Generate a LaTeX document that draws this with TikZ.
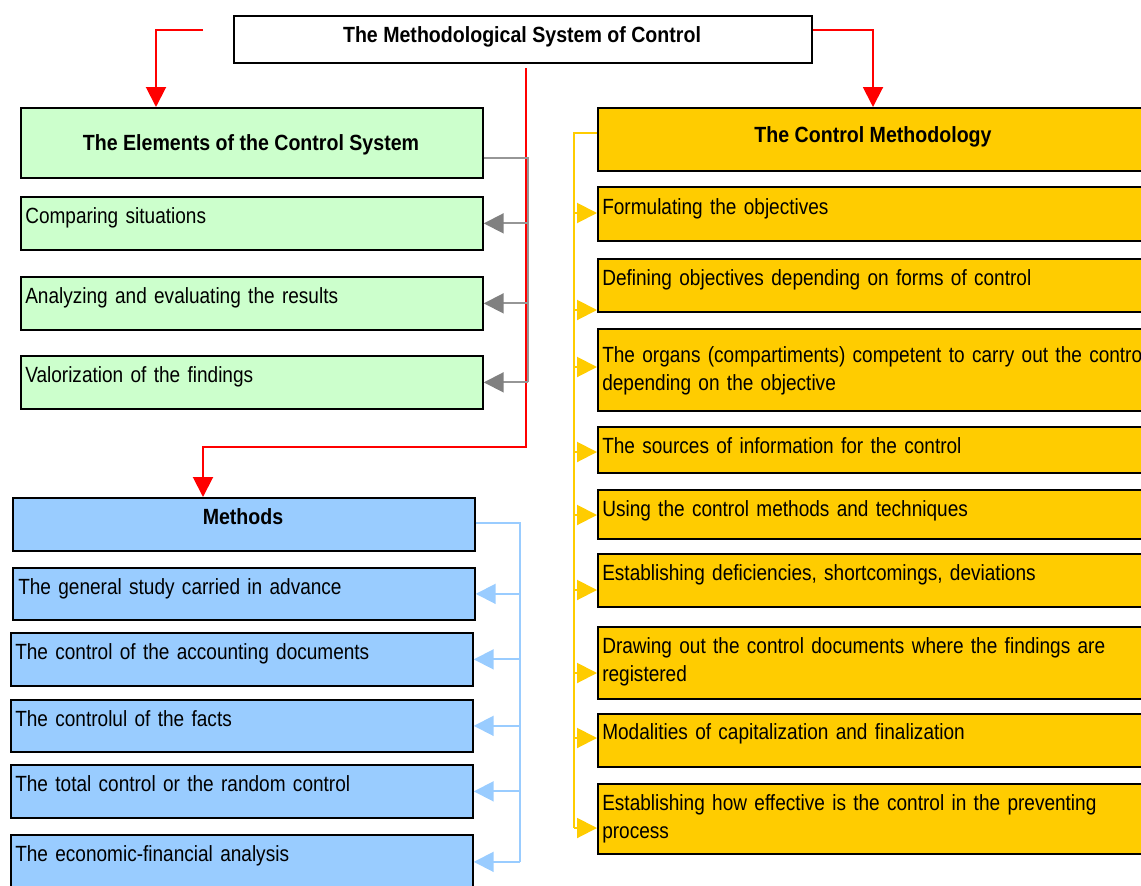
\documentclass[tikz,border=0pt]{standalone}
\usepackage{fontspec}
\setmainfont{Liberation Sans}[FakeStretch=0.865,WordSpace=0.8,BoldFeatures={FakeStretch=0.89,WordSpace=1}]
\usepackage{tikz}
\usetikzlibrary{arrows.meta,calc}

\definecolor{boxgreen}{RGB}{204,255,204}
\definecolor{boxblue}{RGB}{153,204,255}
\definecolor{boxorange}{RGB}{255,204,0}
\definecolor{linkgrey}{RGB}{128,128,128}
\definecolor{trunkgrey}{RGB}{150,150,150}

\newcommand{\figfont}{\fontsize{16.5pt}{21pt}\selectfont}

\tikzset{
	box/.style={draw=black, line width=1.3pt, anchor=north west, inner sep=0pt, minimum width=346.5pt},
	txt/.style={anchor=base west, inner sep=0pt, text width=460pt, align=left, font=\figfont},
	hdr/.style={anchor=base, inner sep=0pt, font=\figfont\bfseries},
	tip/.style={-{Triangle[length=15pt,width=15pt]}},
	redlink/.style={tip, color=red, line width=1.5pt},
	greyline/.style={color=trunkgrey, line width=1.5pt},
	greylink/.style={greyline, -{Triangle[length=15pt,width=15pt,color=linkgrey]}},
	blueline/.style={color=boxblue, line width=1.5pt},
	bluelink/.style={blueline, tip},
	orangeline/.style={color=boxorange, line width=1.5pt},
	orangelink/.style={orangeline, tip}
}

\begin{document}
\begin{tikzpicture}[x=0.75pt,y=0.75pt,yscale=-1,xscale=1]
	\useasboundingbox (0,0) rectangle (1141,885);
	\clip (0,0) rectangle (1141,885);
	
	%Title box
	\node[box, fill=white, minimum width=433.5pt, minimum height=35.25pt] (title) at (233,15) {};
	
	%Elements of the control system
	\node[box, fill=boxgreen, minimum height=52.5pt] (eh) at (20,107) {};
	\node[box, fill=boxgreen, minimum height=39.75pt] (e1) at (20,196) {};
	\node[box, fill=boxgreen, minimum height=39.75pt] (e2) at (20,276) {};
	\node[box, fill=boxgreen, minimum height=39.75pt] (e3) at (20,355) {};
	
	%Methods
	\node[box, fill=boxblue, minimum height=39.75pt] (mh) at (12,497) {};
	\node[box, fill=boxblue, minimum height=39pt] (m1) at (12,567) {};
	\node[box, fill=boxblue, minimum height=39.75pt] (m2) at (10,632) {};
	\node[box, fill=boxblue, minimum height=39pt] (m3) at (10,699) {};
	\node[box, fill=boxblue, minimum height=39.75pt] (m4) at (10,764) {};
	\node[box, fill=boxblue, minimum height=40.5pt] (m5) at (10,834) {};
	
	%Control methodology
	\node[box, fill=boxorange, minimum width=420pt, minimum height=47.25pt] (ch) at (597,107) {};
	\node[box, fill=boxorange, minimum width=420pt, minimum height=40.5pt] (o1) at (597,186) {};
	\node[box, fill=boxorange, minimum width=420pt, minimum height=39.75pt] (o2) at (597,258) {};
	\node[box, fill=boxorange, minimum width=420pt, minimum height=61.5pt] (o3) at (597,328) {};
	\node[box, fill=boxorange, minimum width=420pt, minimum height=34.5pt] (o4) at (597,426) {};
	\node[box, fill=boxorange, minimum width=420pt, minimum height=36.75pt] (o5) at (597,489) {};
	\node[box, fill=boxorange, minimum width=420pt, minimum height=39.75pt] (o6) at (597,553) {};
	\node[box, fill=boxorange, minimum width=420pt, minimum height=54pt] (o7) at (597,626) {};
	\node[box, fill=boxorange, minimum width=420pt, minimum height=39.75pt] (o8) at (597,713) {};
	\node[box, fill=boxorange, minimum width=420pt, minimum height=52.5pt] (o9) at (597,783) {};
	
	%Red links from the title
	\coordinate (rl) at (203,30);
	\draw[redlink] (rl) -| ($(eh.north west)+(136,0)$);
	\draw[redlink] ($(title.north east)+(0,15)$) -| ($(ch.north west)+(276,0)$);
	\coordinate (rc) at (526,68);
	\draw[redlink] (rc) -- ++(0,379) -| ($(mh.north west)+(191,0)$);
	
	%Grey links
	\coordinate (gt) at (528,158);
	\draw[greyline] (eh.east |- gt) -- (gt) -- (gt |- e3.east);
	\foreach \n in {e1,e2,e3}
		\draw[greylink] (gt |- \n.east) -- (\n.east);
	
	%Blue links
	\coordinate (bt) at (520,523);
	\draw[blueline] (mh.east |- bt) -- (bt) -- (bt |- m5.east);
	\foreach \n in {m1,m2,m3,m4,m5}
		\draw[bluelink] (bt |- \n.east) -- (\n.east);
	
	%Orange links
	\coordinate (ot) at (574,133);
	\draw[orangeline] (ch.west |- ot) -- (ot) -- (ot |- 0,828);
	\foreach \n/\y in {o1/213,o2/310,o3/367,o4/452,o5/515,o6/590,o7/673,o8/738,o9/828}
		\draw[orangelink] (ot |- 0,\y) -- (\n.west |- 0,\y);
	
	% Text Nodes
	\node[hdr] (t-title) at (522,42) {The Methodological System of Control};
	\node[hdr] (t-eh) at (251,150) {The Elements of the Control System};
	\node[hdr] (t-mh) at (243,524) {Methods};
	\node[hdr] (t-ch) at (873,142) {The Control Methodology};
	
	\node[txt] (t-e1) at (25,223) {Comparing situations};
	\node[txt] (t-e2) at (25,303) {Analyzing and evaluating the results};
	\node[txt] (t-e3) at (25,382) {Valorization of the findings};
	
	\node[txt] (t-m1) at (18,594) {The general study carried in advance};
	\node[txt] (t-m2) at (15,659) {The control of the accounting documents};
	\node[txt] (t-m3) at (15,726) {The controlul of the facts};
	\node[txt] (t-m4) at (15,791) {The total control or the random control};
	\node[txt] (t-m5) at (15,861) {The economic-financial analysis};
	
	\node[txt] (t-o1) at (602,214) {Formulating the objectives};
	\node[txt] (t-o2) at (602,285) {Defining objectives depending on forms of control};
	\node[txt] (t-o3) at (602,362) {The organs (compartiments) competent to carry out the control\\depending on the objective};
	\node[txt] (t-o4) at (602,453) {The sources of information for the control};
	\node[txt] (t-o5) at (602,516) {Using the control methods and techniques};
	\node[txt] (t-o6) at (602,580) {Establishing deficiencies, shortcomings, deviations};
	\node[txt] (t-o7) at (602,653) {Drawing out the control documents where the findings are\\registered};
	\node[txt] (t-o8) at (602,739) {Modalities of capitalization and finalization};
	\node[txt] (t-o9) at (602,810) {Establishing how effective is the control in the preventing\\process};
	
\end{tikzpicture}
\end{document}
